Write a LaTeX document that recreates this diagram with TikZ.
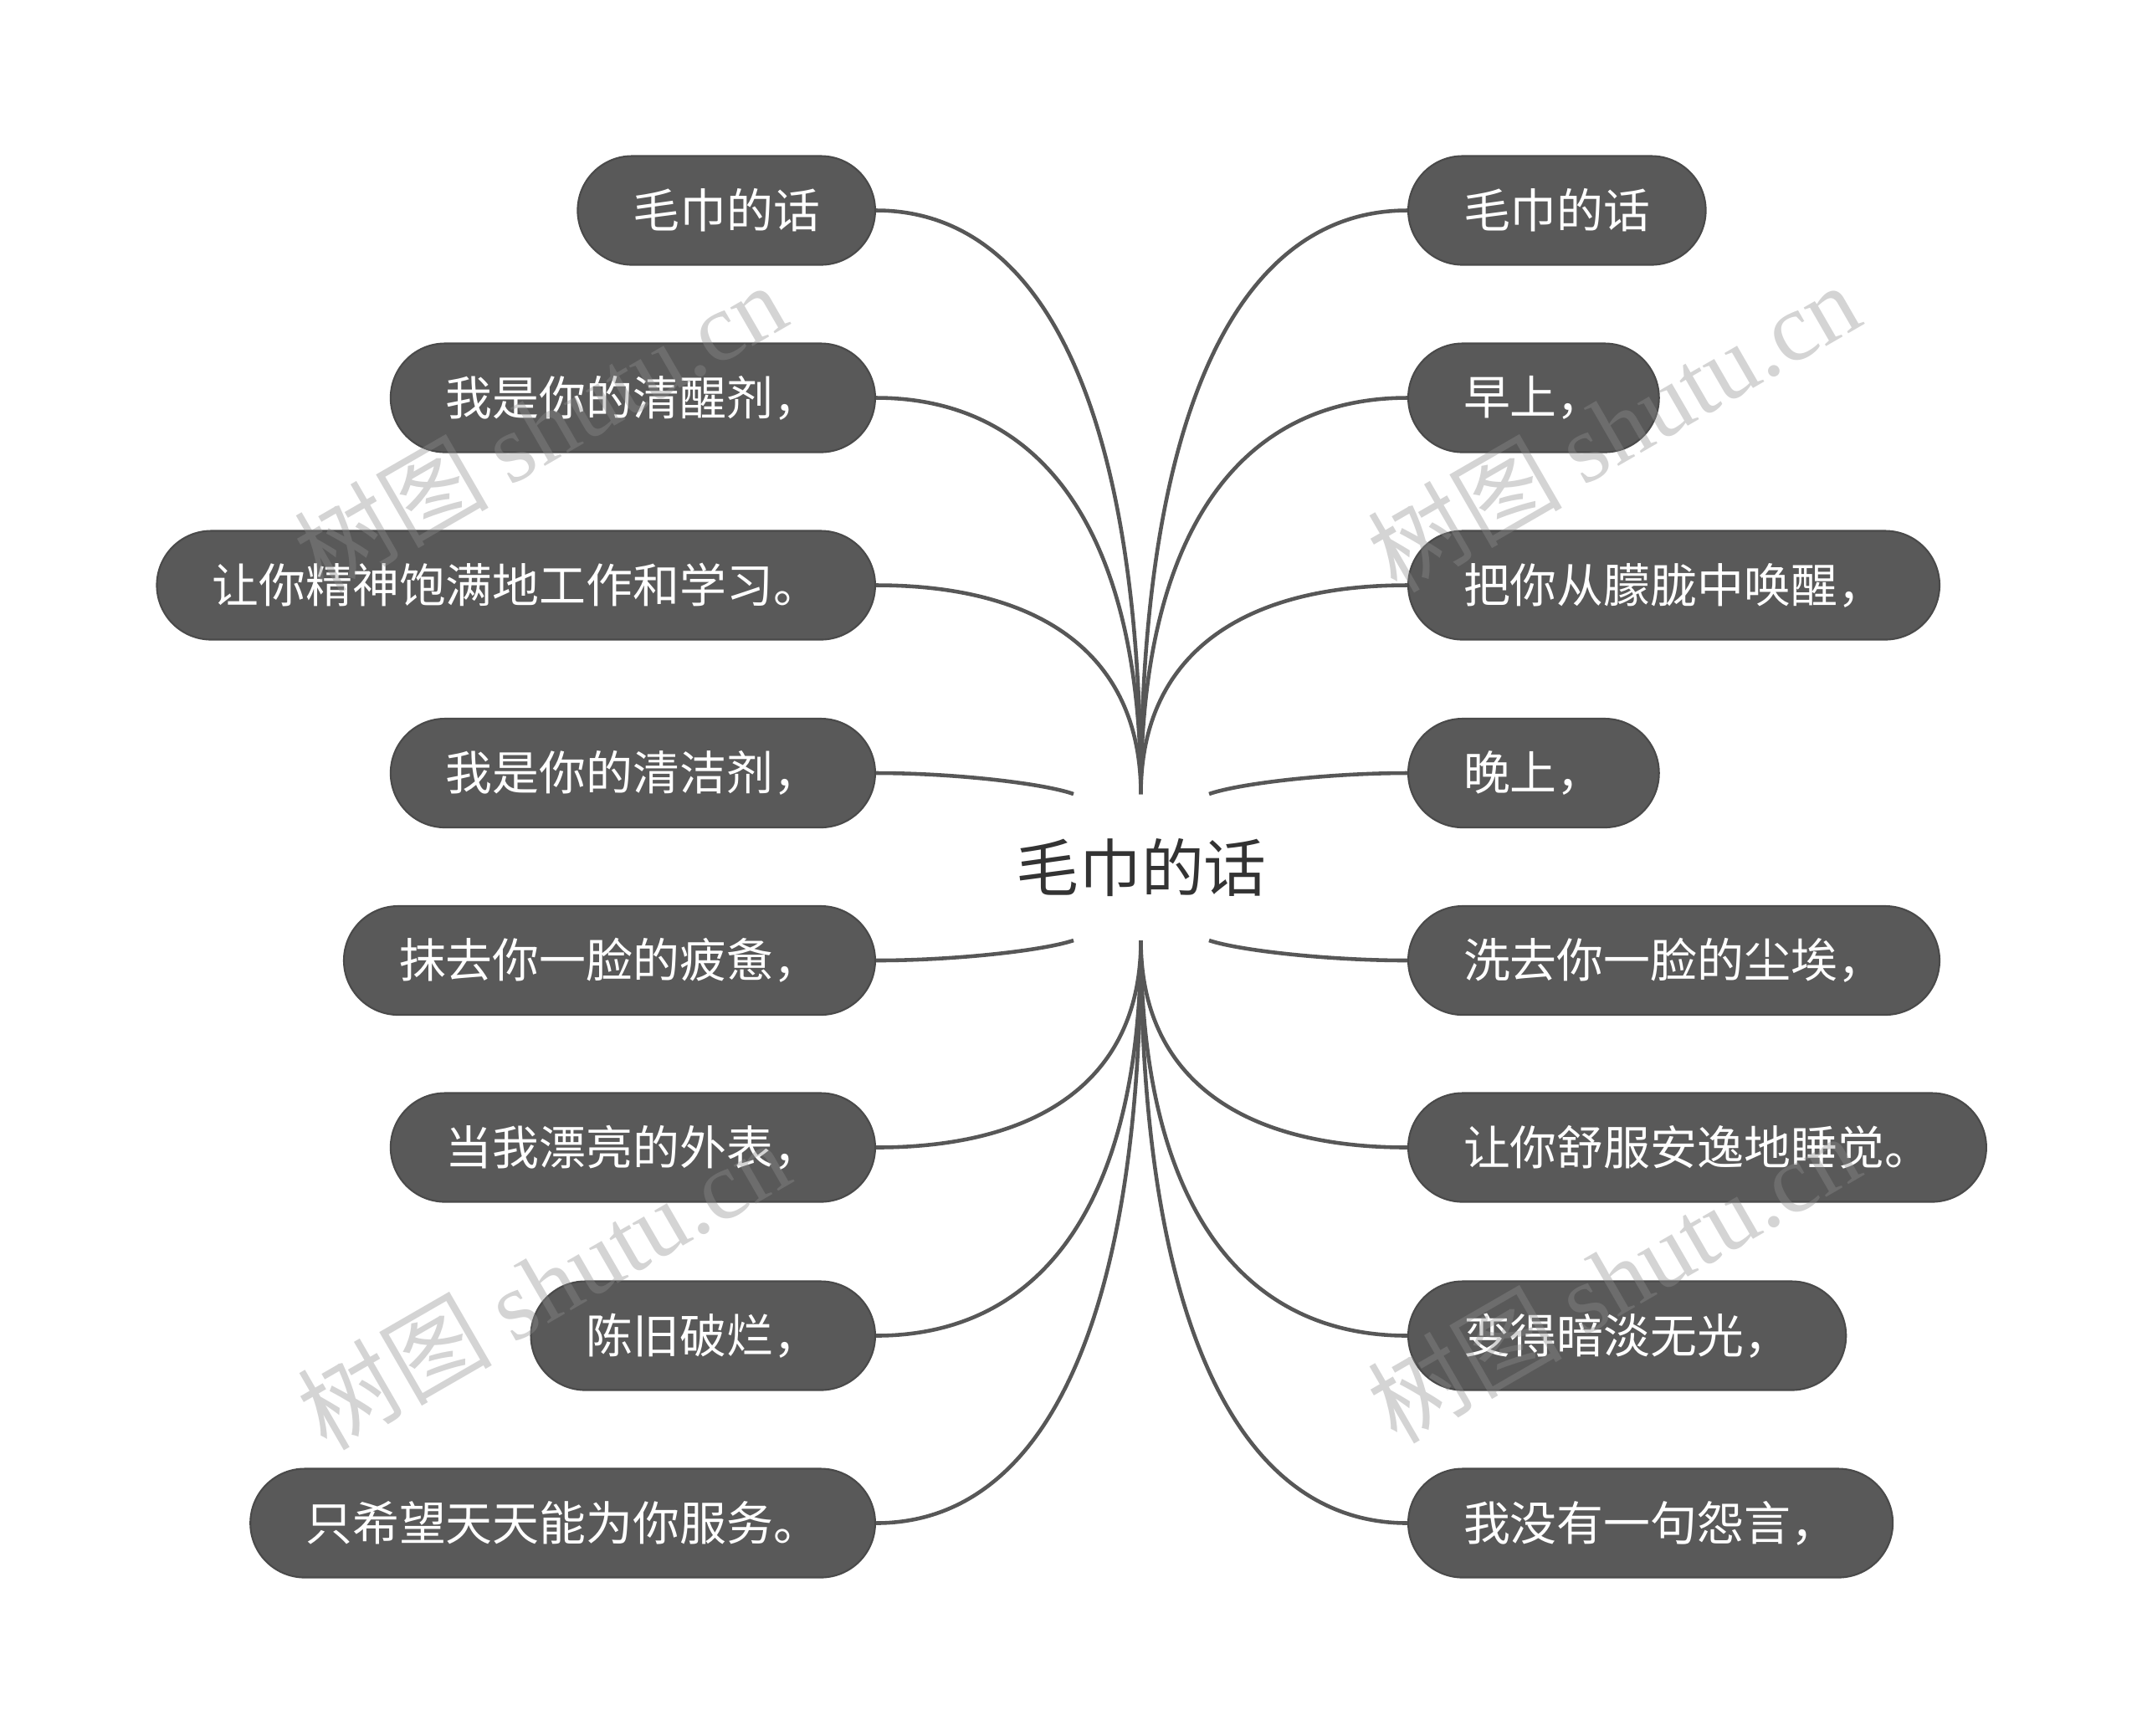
\documentclass[tikz,border=0pt]{standalone}
\usepackage{fontspec}
\setmainfont{Noto Sans CJK SC}
\newfontfamily\cjk{Noto Sans CJK SC}
\newfontfamily\wmserif{Liberation Serif}
\usetikzlibrary{calc}
\definecolor{nodefill}{HTML}{595959}
\definecolor{nodeline}{HTML}{4A4A4A}
\definecolor{linkcol}{HTML}{575757}
\definecolor{roottext}{HTML}{333333}
\definecolor{wmcol}{HTML}{8E8E8E}
\begin{document}
\begin{tikzpicture}[x=1cm,y=1cm,
  leaf/.style={rounded corners=0.65cm, fill=nodefill, draw=nodeline, line width=0.6pt,
    text=white, font=\cjk\fontsize{15.9pt}{18pt}\selectfont,
    minimum height=1.3cm, inner xsep=0.66cm, inner ysep=0pt},
  lleaf/.style={leaf, anchor=east},
  rleaf/.style={leaf, anchor=west},
  root/.style={text=roottext, font=\cjk\fontsize{21.3pt}{24pt}\selectfont,
    minimum height=1.75cm, inner sep=0pt},
  link/.style={draw=linkcol, line width=1.3pt,
    to path={let \p1=(\tikztostart), \p2=(\tikztotarget) in
      .. controls ({\x1+0.64*(\x2-\x1)},\y1) and (\x2,{\y1+0.35*(\y2-\y1)}) .. (\tikztotarget)}},
  nlink/.style={draw=linkcol, line width=1.3pt,
    to path={let \p1=(\tikztostart), \p2=(\tikztotarget) in
      .. controls ({\x1+0.4*(\x2-\x1)},\y1) and ({\x1+0.85*(\x2-\x1)},{\y1+0.5*(\y2-\y1)}) .. (\tikztotarget)}},
  wmark/.style={rotate=30, text=wmcol, text opacity=0.38, inner sep=0pt,
    font=\fontsize{33pt}{36pt}\selectfont}
]
\useasboundingbox (0,0) rectangle (25.6,-20.74);
\fill[white] (0,0) rectangle (25.6,-20.74);

% root
\node[root] (c) at (13.64,-10.365) {毛巾的话};
\coordinate (ct)  at (13.635,-9.49);
\coordinate (ctl) at (12.83,-9.49);
\coordinate (ctr) at (14.45,-9.49);
\coordinate (cb)  at (13.635,-11.24);
\coordinate (cbl) at (12.83,-11.24);
\coordinate (cbr) at (14.45,-11.24);

% left leaves
\node[lleaf] (l1) at (10.47,-2.515) {毛巾的话};
\node[lleaf] (l2) at (10.47,-4.755) {我是你的清醒剂，};
\node[lleaf] (l3) at (10.47,-6.995) {让你精神饱满地工作和学习。};
\node[lleaf] (l4) at (10.47,-9.24) {我是你的清洁剂，};
\node[lleaf] (l5) at (10.47,-11.48) {抹去你一脸的疲惫，};
\node[lleaf] (l6) at (10.47,-13.715) {当我漂亮的外表，};
\node[lleaf] (l7) at (10.47,-15.965) {陈旧破烂，};
\node[lleaf] (l8) at (10.47,-18.205) {只希望天天能为你服务。};

% right leaves
\node[rleaf] (r1) at (16.82,-2.515) {毛巾的话};
\node[rleaf] (r2) at (16.82,-4.755) {早上，};
\node[rleaf] (r3) at (16.82,-6.995) {把你从朦胧中唤醒，};
\node[rleaf] (r4) at (16.82,-9.24) {晚上，};
\node[rleaf] (r5) at (16.82,-11.48) {洗去你一脸的尘埃，};
\node[rleaf] (r6) at (16.82,-13.715) {让你舒服安逸地睡觉。};
\node[rleaf] (r7) at (16.82,-15.965) {变得暗淡无光，};
\node[rleaf] (r8) at (16.82,-18.205) {我没有一句怨言，};

% connectors
\draw[link] (l1.east) to (ct);
\draw[link] (l2.east) to (ct);
\draw[link] (l3.east) to (ct);
\draw[nlink] (l4.east) to (ctl);
\draw[nlink] (l5.east) to (cbl);
\draw[link] (l6.east) to (cb);
\draw[link] (l7.east) to (cb);
\draw[link] (l8.east) to (cb);
\draw[link] (r1.west) to (ct);
\draw[link] (r2.west) to (ct);
\draw[link] (r3.west) to (ct);
\draw[nlink] (r4.west) to (ctr);
\draw[nlink] (r5.west) to (cbr);
\draw[link] (r6.west) to (cb);
\draw[link] (r7.west) to (cb);
\draw[link] (r8.west) to (cb);

% watermarks
\node[wmark] (w1) at (6.45,-5.10) {\cjk 树图 \wmserif shutu.cn};
\node[wmark] (w2) at (19.28,-5.10) {\cjk 树图 \wmserif shutu.cn};
\node[wmark] (w3) at (6.49,-15.35) {\cjk 树图 \wmserif shutu.cn};
\node[wmark] (w4) at (19.28,-15.27) {\cjk 树图 \wmserif shutu.cn};
\end{tikzpicture}
\end{document}
